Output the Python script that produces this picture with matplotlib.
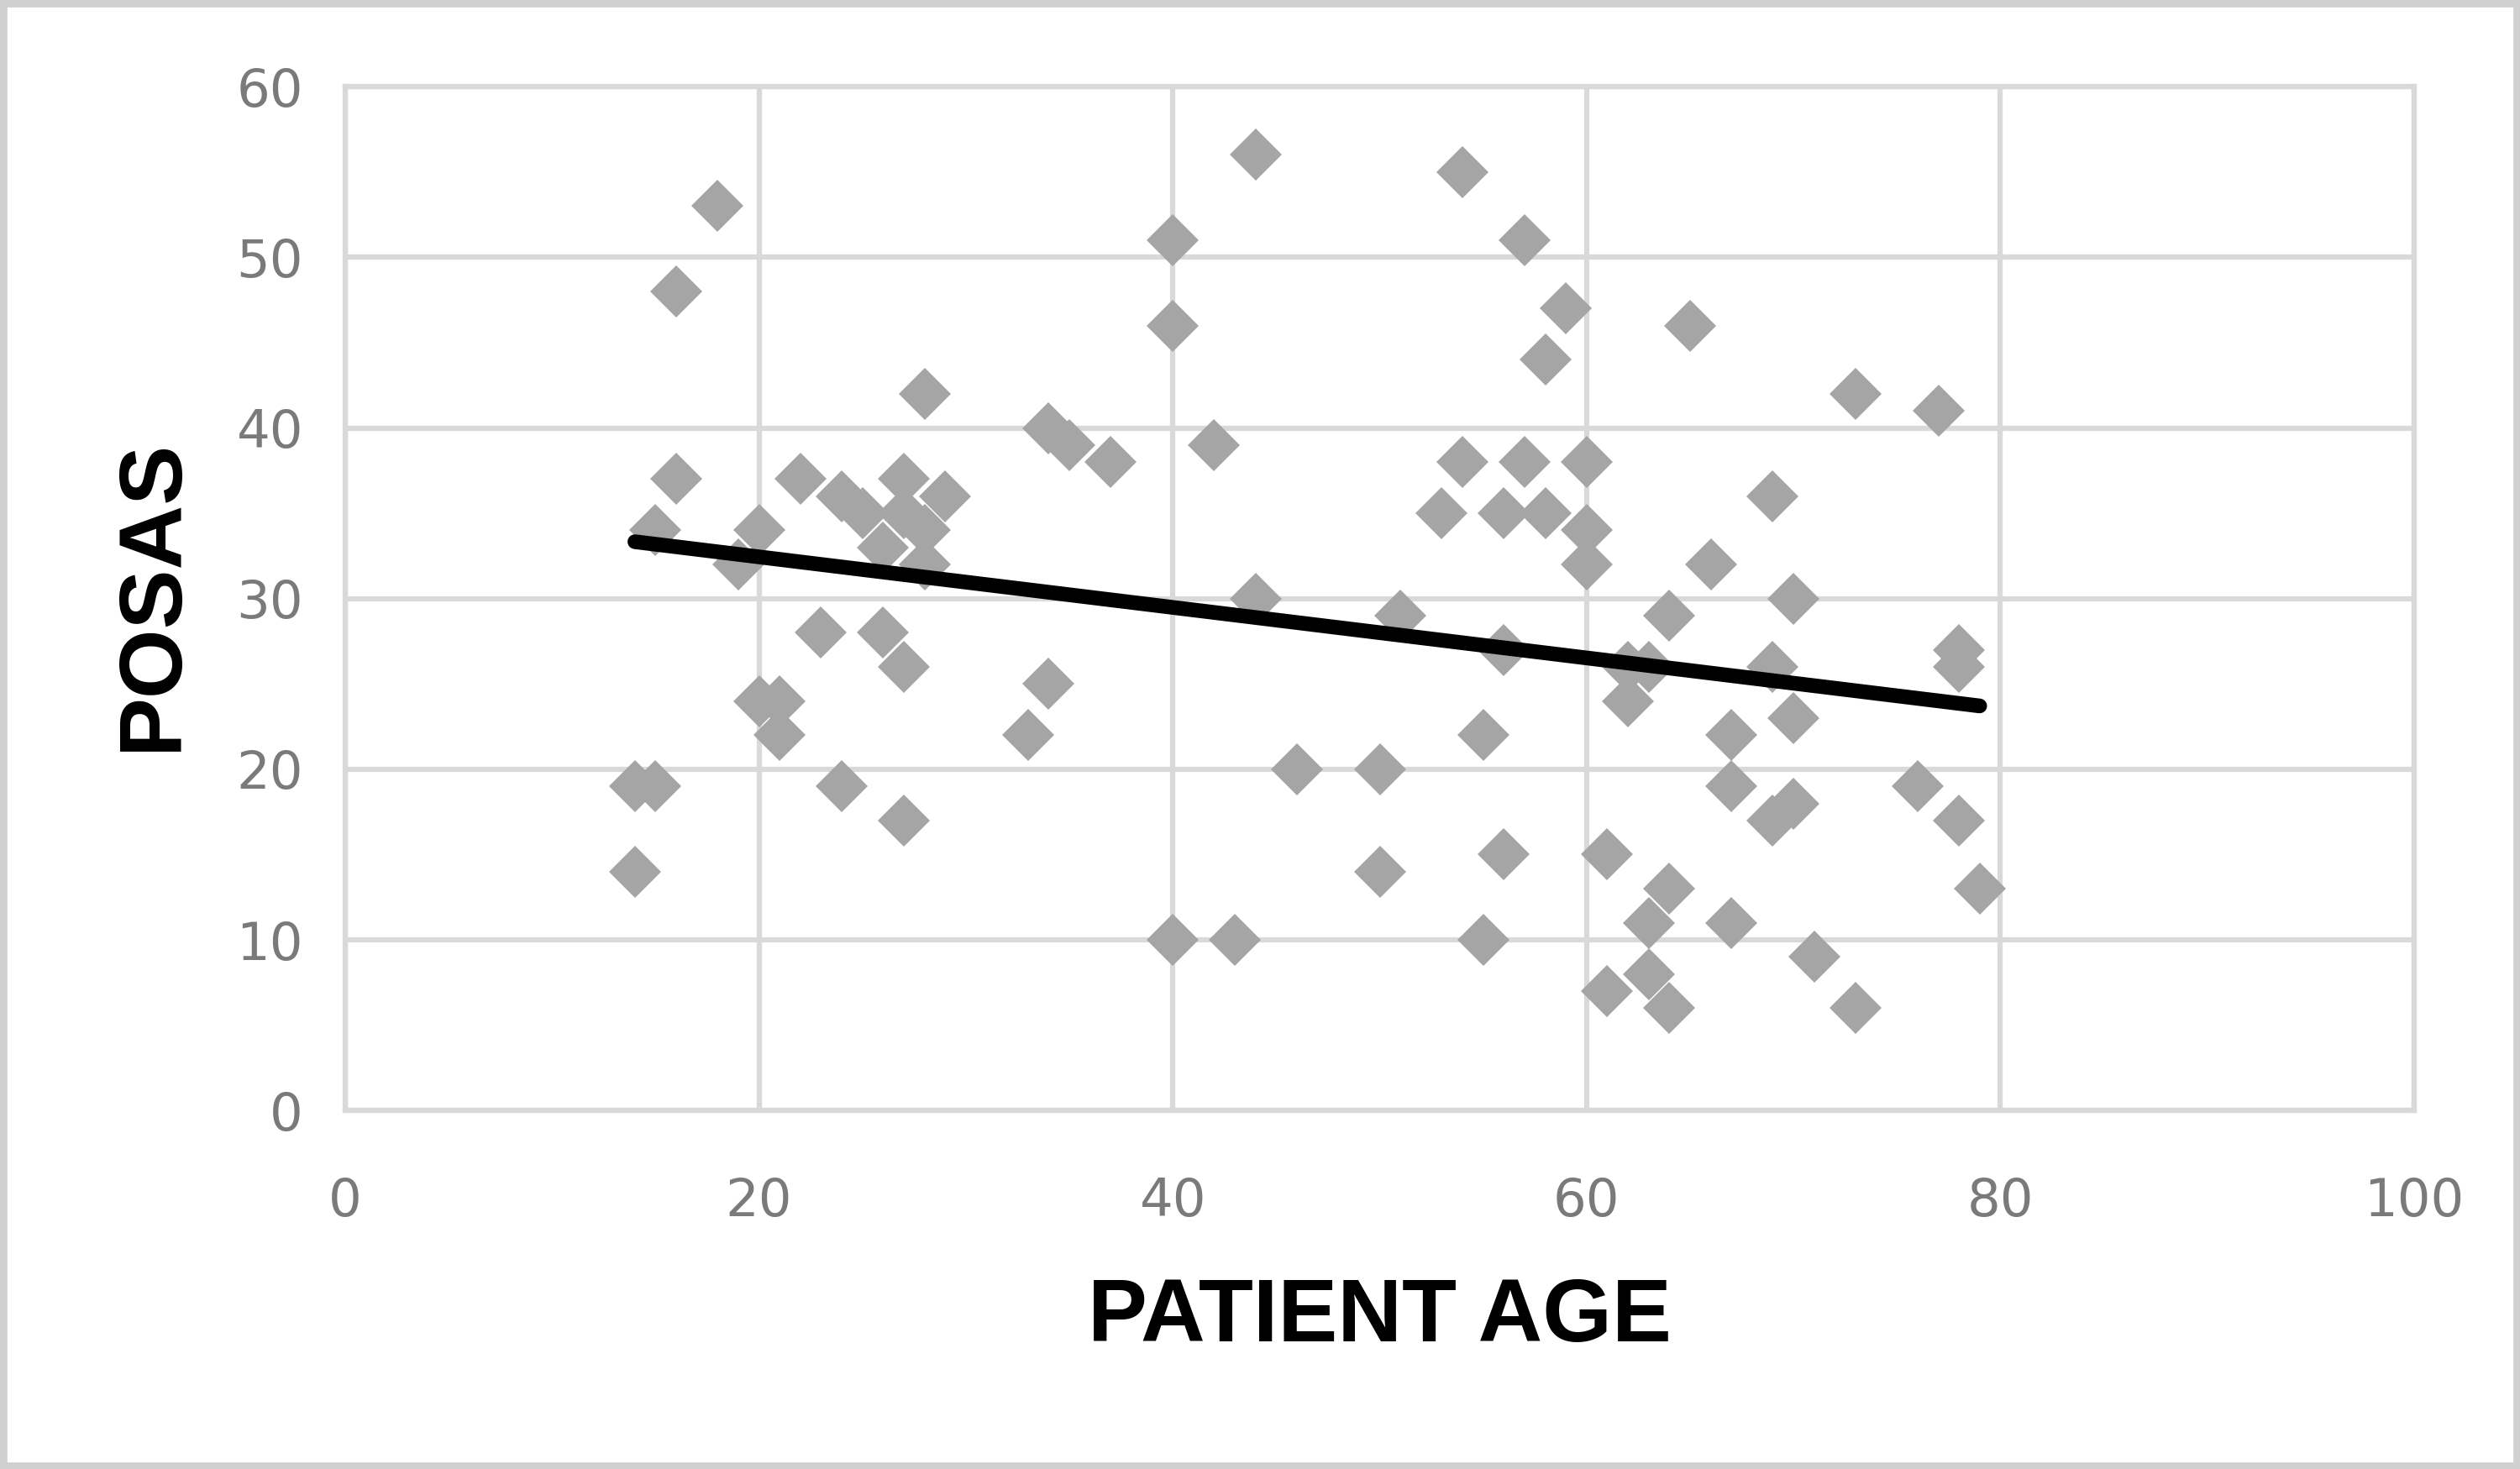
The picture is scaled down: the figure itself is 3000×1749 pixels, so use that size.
import numpy as np
import matplotlib
matplotlib.use("Agg")
import matplotlib.pyplot as plt
from matplotlib.patches import Rectangle

# ---- data ----
patient_age = [14, 15, 14, 15, 16, 16, 18, 19, 20, 20, 21, 21, 22, 23, 24, 24, 25, 26, 26,
               27, 27, 27, 27, 28, 28, 28, 29, 33, 34, 34, 35, 37, 40, 40, 40, 42, 43, 44,
               44, 46, 50, 50, 51, 53, 54, 54, 55, 55, 56, 56, 56, 57, 57, 58, 58, 59, 60,
               60, 60, 61, 61, 62, 62, 63, 63, 63, 64, 64, 64, 65, 66, 67, 67, 67, 69, 69,
               69, 70, 70, 70, 71, 73, 73, 76, 77, 78, 78, 78, 79]
posas = [19, 19, 14, 34, 48, 37, 53, 32, 34, 24, 24, 22, 37, 28, 19, 36, 35, 33, 28,
         37, 35, 26, 17, 42, 34, 32, 36, 22, 40, 25, 39, 38, 51, 46, 10, 39, 10, 56,
         30, 20, 20, 14, 29, 35, 55, 38, 22, 10, 35, 27, 15, 51, 38, 44, 35, 47, 38,
         34, 32, 15, 7, 26, 24, 26, 11, 8, 29, 13, 6, 46, 32, 22, 19, 11, 36, 26,
         17, 30, 23, 18, 9, 42, 6, 19, 41, 27, 26, 17, 13]
x_ticks = [0, 20, 40, 60, 80, 100]
y_ticks = [0, 10, 20, 30, 40, 50, 60]
x_label = "PATIENT AGE"
y_label = "POSAS"

fig = plt.figure(figsize=(10, 5.83), dpi=300)
ax = fig.add_axes([0.137, 0.244, 0.821, 0.697])

grid_c = "#D9D9D9"
ax.set_xlim(0, 100)
ax.set_ylim(0, 60)
ax.set_xticks(x_ticks)
ax.set_yticks(y_ticks)
ax.grid(True, color=grid_c, linewidth=1.5)
ax.set_axisbelow(True)
for s in ax.spines.values():
    s.set_color(grid_c)
    s.set_linewidth(1.5)
ax.tick_params(length=0, labelsize=15, labelcolor="#7A7A7A")
ax.tick_params(axis="x", pad=19)
ax.tick_params(axis="y", pad=12)

ax.plot(patient_age, posas, linestyle="none", marker="D", markersize=10.5,
        markerfacecolor="#A5A5A5", markeredgewidth=0, zorder=3)

# linear trend line
xa = np.array(patient_age, dtype=float)
ya = np.array(posas, dtype=float)
m, b = np.polyfit(xa, ya, 1)
xt = np.array([xa.min(), xa.max()])
ax.plot(xt, m * xt + b, color="black", linewidth=4.2, solid_capstyle="round", zorder=4)

lab_font = dict(family=["Liberation Sans", "DejaVu Sans"],
                weight="bold", size=25.5, color="black")
ax.set_xlabel(x_label, va="center", **lab_font)
ax.xaxis.set_label_coords(0.5, -0.203)
ax.set_ylabel(y_label, va="center", ha="center", **lab_font)
ax.yaxis.set_label_coords(-0.093, 0.504)

fig.patches.append(Rectangle((0, 0), 1, 1, transform=fig.transFigure, fill=False,
                             edgecolor="#D0D0D0", linewidth=4))

fig.savefig("out.png", dpi=300)
